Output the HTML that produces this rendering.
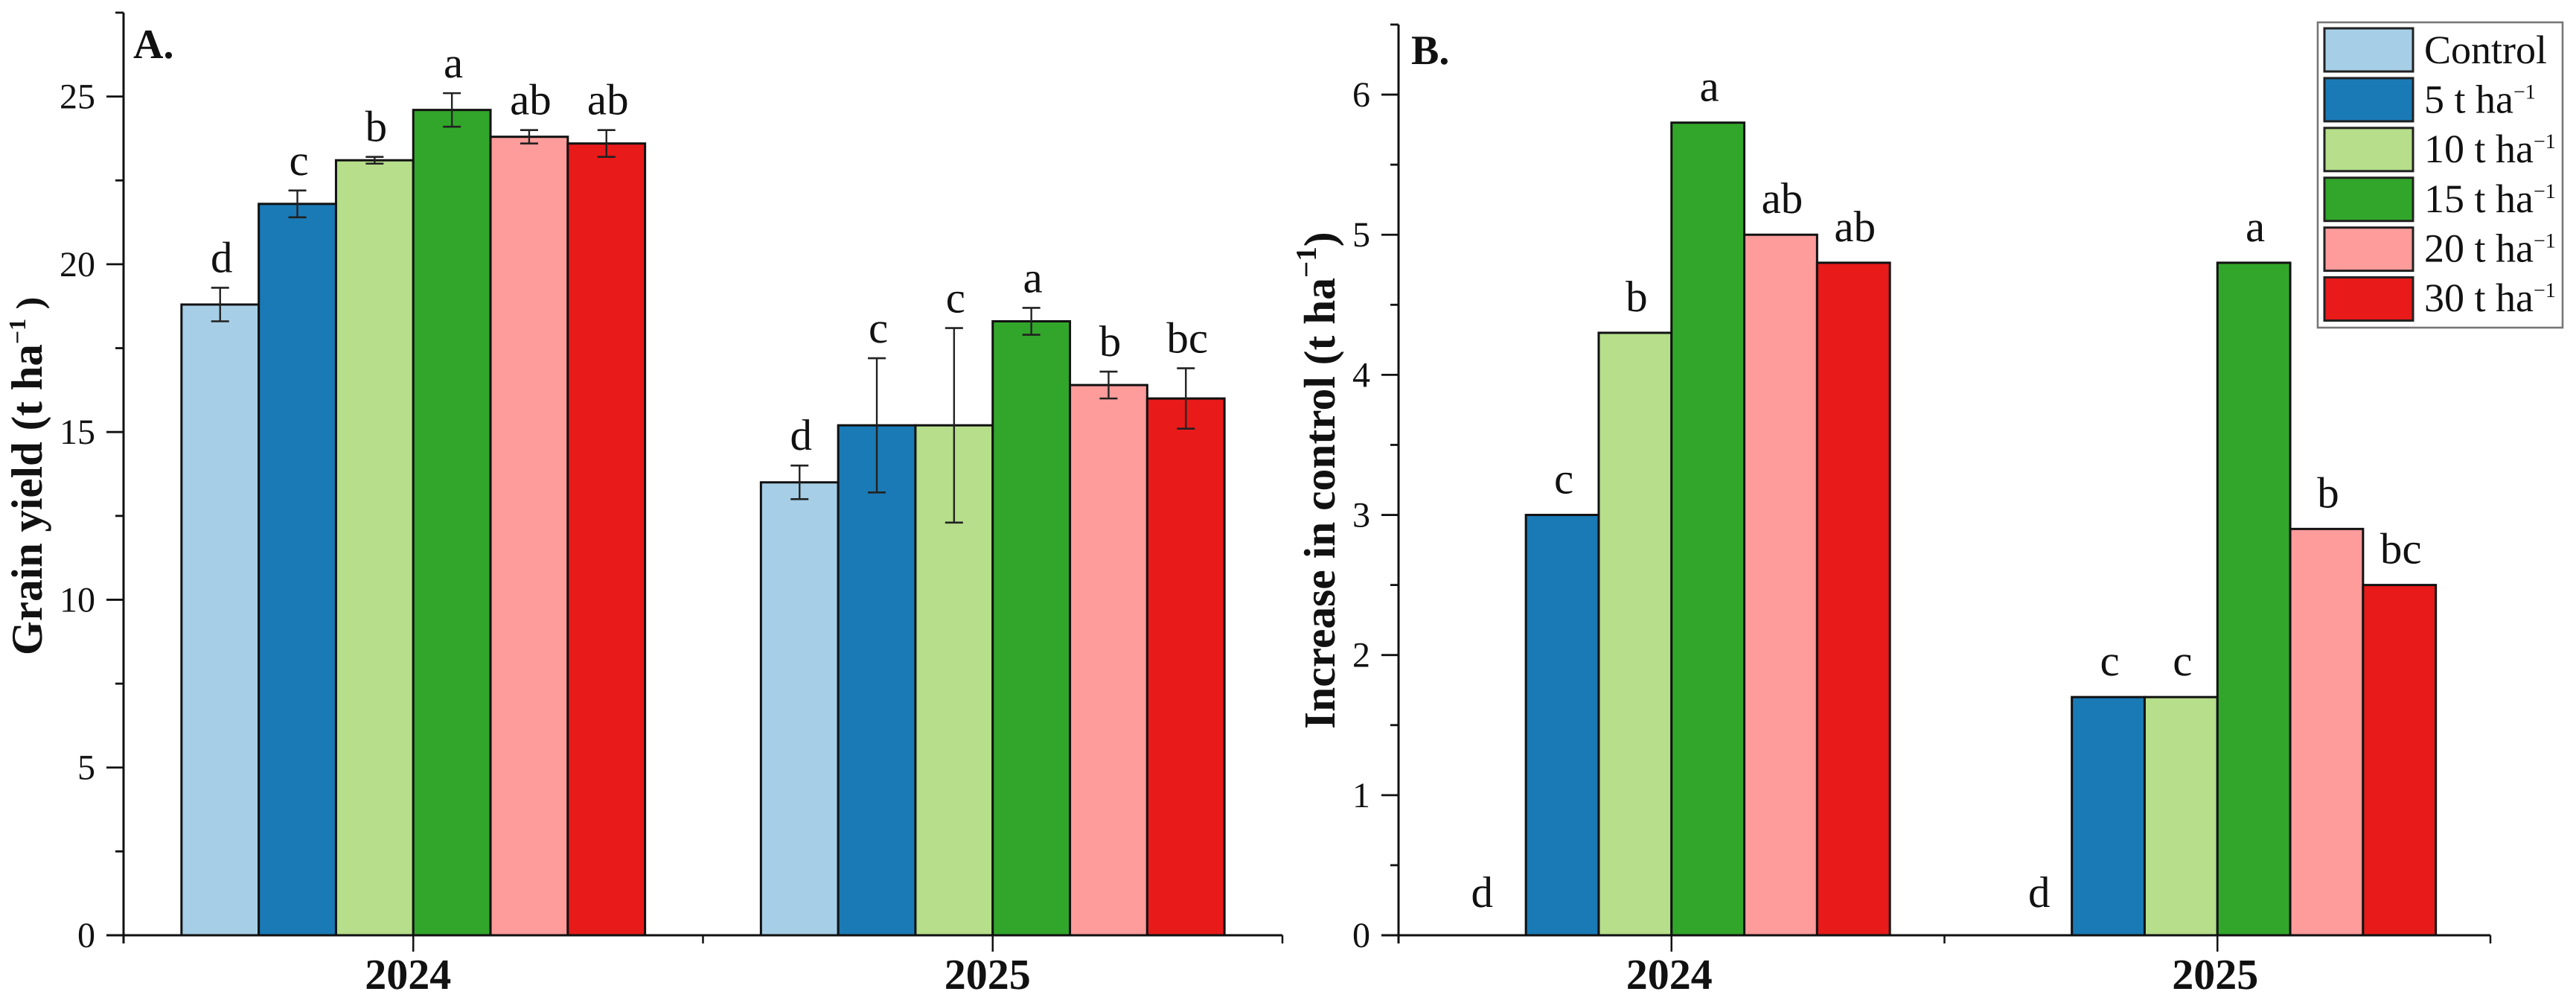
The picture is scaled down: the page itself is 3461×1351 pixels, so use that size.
<!DOCTYPE html>
<html lang="en">
<head>
<meta charset="utf-8">
<title>Grain yield and increase in control</title>
<style>
html,body{margin:0;padding:0;background:#fff;}
svg{display:block;}
text{font-family:"Liberation Serif","Times New Roman",serif;fill:#111;text-rendering:geometricPrecision;}
</style>
</head>
<body>
<svg id="chart" xmlns="http://www.w3.org/2000/svg" width="3461" height="1351" viewBox="0 0 3461 1351">
  <rect x="0" y="0" width="3461" height="1351" fill="#ffffff"/>
  <text x="179" y="78" font-size="56" font-weight="700">A.</text>
  <text x="1896" y="86" font-size="56" font-weight="700">B.</text>
  <text transform="translate(56,880) rotate(-90)" font-size="59" font-weight="700">Grain yield (t ha<tspan font-size="32" dy="-22">−1</tspan><tspan dy="22" font-size="50"> )</tspan></text>
  <text transform="translate(1793,979) rotate(-90)" font-size="59.5" font-weight="700">Increase in control (t ha<tspan font-size="39" dy="-25">−1</tspan><tspan dy="25">)</tspan></text>
</svg>
<script>
// ---------- data ----------
const categories = ['2024', '2025'];
const seriesLabels = ['Control', '5 t ha', '10 t ha', '15 t ha', '20 t ha', '30 t ha'];
const seriesColors = ['#a6cfe7', '#1a7ab6', '#b6de8b', '#32a62b', '#fe9b9b', '#e81a1a'];

const yieldTicks = [0, 5, 10, 15, 20, 25];
const yield2024 = [18.8, 21.8, 23.1, 24.6, 23.8, 23.6];
const yield2025 = [13.5, 15.2, 15.2, 18.3, 16.4, 16.0];
const yieldErr2024 = [0.5, 0.4, 0.1, 0.5, 0.2, 0.4];
const yieldErr2025 = [0.5, 2.0, 2.9, 0.4, 0.4, 0.9];
const yieldLetters2024 = ['d', 'c', 'b', 'a', 'ab', 'ab'];
const yieldLetters2025 = ['d', 'c', 'c', 'a', 'b', 'bc'];

const increaseTicks = [0, 1, 2, 3, 4, 5, 6];
const increase2024 = [0, 3.0, 4.3, 5.8, 5.0, 4.8];
const increase2025 = [0, 1.7, 1.7, 4.8, 2.9, 2.5];
const increaseLetters2024 = ['d', 'c', 'b', 'a', 'ab', 'ab'];
const increaseLetters2025 = ['d', 'c', 'c', 'a', 'b', 'bc'];

// ---------- helpers ----------
const NS = 'http://www.w3.org/2000/svg';
const svg = document.getElementById('chart');

function make(tag, name, attrs, text) {
  const el = document.createElementNS(NS, tag);
  
  
  for (const k in attrs) el.setAttribute(k, attrs[k]);
  if (text !== undefined) el.textContent = text;
  svg.appendChild(el);
  return el;
}
function line(name, x1, y1, x2, y2, width, color) {
  return make('line', name, {x1: x1, y1: y1, x2: x2, y2: y2, stroke: color || '#111', 'stroke-width': width});
}

const BASE_Y = 1256;
const TOP_Y = 17;

function drawPanel(cfg) {
  const xUnit = (cfg.right - cfg.left) / 2;
  const xOf = c => cfg.left + xUnit * (c + 0.5);
  const yOf = v => BASE_Y - (v / cfg.yMax) * (BASE_Y - cfg.top);
  const barW = xUnit * 0.8 / seriesLabels.length;

  // bars
  cfg.values.forEach((vals, c) => {
    vals.forEach((v, s) => {
      const x = xOf(c) - xUnit * 0.4 + s * barW;
      make('rect', cfg.id + '-bar-' + categories[c] + '-' + (s + 1), {
        x: x, y: yOf(v), width: barW, height: BASE_Y - yOf(v),
        fill: seriesColors[s], stroke: '#111', 'stroke-width': 3
      });
    });
  });

  // error bars
  if (cfg.errors) {
    cfg.errors.forEach((errs, c) => {
      errs.forEach((e, s) => {
        const v = cfg.values[c][s];
        const cx = xOf(c) - xUnit * 0.4 + (s + 0.5) * barW;
        const nm = cfg.id + '-error-bar-' + categories[c] + '-' + (s + 1);
        line(nm + '-stem', cx, yOf(v + e), cx, yOf(v - e), 2.4, '#222');
        line(nm + '-cap-top', cx - 12, yOf(v + e), cx + 12, yOf(v + e), 2.6, '#222');
        line(nm + '-cap-bottom', cx - 12, yOf(v - e), cx + 12, yOf(v - e), 2.6, '#222');
      });
    });
  }

  // significance letters
  cfg.letters.forEach((row, c) => {
    row.forEach((t, s) => {
      const v = cfg.values[c][s];
      const e = cfg.errors ? cfg.errors[c][s] : 0;
      const cx = xOf(c) - xUnit * 0.4 + (s + 0.5) * barW;
      const gap = cfg.errors ? 21 : (v === 0 ? 38 : 29);
      const shift = (!cfg.errors && v === 0) ? (c === 0 ? -10 : 5) : 2;
      make('text', cfg.id + '-letter-' + categories[c] + '-' + (s + 1), {
        x: cx + shift, y: yOf(v + e) - gap, 'font-size': 59, 'text-anchor': 'middle'
      }, t);
    });
  });

  // y axis
  line(cfg.id + '-y-axis-line', cfg.left, cfg.top, cfg.left, BASE_Y + 11, 3);
  cfg.ticks.forEach((t, i) => {
    const y = yOf(t);
    line(cfg.id + '-y-tick-' + t, cfg.left - 23, y, cfg.left, y, 2.8);
    make('text', cfg.id + '-y-tick-label-' + t, {
      x: cfg.left - 38, y: y + 16, 'font-size': 48, 'text-anchor': 'end'
    }, String(t));
    const mid = t + (cfg.ticks[1] - cfg.ticks[0]) / 2;
    line(cfg.id + '-y-minor-tick-' + mid, cfg.left - 11, yOf(mid), cfg.left, yOf(mid), 2.8);
  });

  // x axis
  line(cfg.id + '-x-axis-line', cfg.left - 23, BASE_Y, cfg.right, BASE_Y, 3);
  line(cfg.id + '-x-minor-tick-mid', (cfg.left + cfg.right) / 2, BASE_Y, (cfg.left + cfg.right) / 2, BASE_Y + 11, 2.5);
  line(cfg.id + '-x-minor-tick-end', cfg.right, BASE_Y, cfg.right, BASE_Y + 11, 2.5);
  categories.forEach((cat, c) => {
    line(cfg.id + '-x-tick-' + cat, xOf(c), BASE_Y, xOf(c), BASE_Y + 22, 2.5);
    make('text', cfg.id + '-x-tick-label-' + cat, {
      x: xOf(c) - cfg.catShift, y: 1328, 'font-size': 58, 'font-weight': 700, 'text-anchor': 'middle'
    }, cat);
  });
}

drawPanel({
  id: 'panel-a', left: 166, right: 1723, top: TOP_Y, yMax: 27.5,
  ticks: yieldTicks,
  values: [yield2024, yield2025],
  errors: [yieldErr2024, yieldErr2025],
  letters: [yieldLetters2024, yieldLetters2025],
  catShift: 7
});
drawPanel({
  id: 'panel-b', left: 1879, right: 3346, top: 33, yMax: 6.5,
  ticks: increaseTicks,
  values: [increase2024, increase2025],
  errors: null,
  letters: [increaseLetters2024, increaseLetters2025],
  catShift: 3
});

// ---------- legend ----------
make('rect', 'legend-box', {x: 3114, y: 30, width: 329, height: 410, fill: '#fff', stroke: '#777', 'stroke-width': 2.6});
seriesLabels.forEach((label, i) => {
  const top = 38 + i * 66.9;
  make('rect', 'legend-swatch-' + (i + 1), {
    x: 3123, y: top, width: 119, height: 58,
    fill: seriesColors[i], stroke: '#222', 'stroke-width': 3
  });
  const t = make('text', 'legend-entry-' + (i + 1), {x: 3257, y: 85 + i * 66.6, 'font-size': 54}, label);
  if (i > 0) {
    const sup = document.createElementNS(NS, 'tspan');
    
    
    sup.setAttribute('font-size', '28');
    sup.setAttribute('dy', '-19');
    sup.textContent = '−1';
    t.appendChild(sup);
  }
});
</script>
</body>
</html>
